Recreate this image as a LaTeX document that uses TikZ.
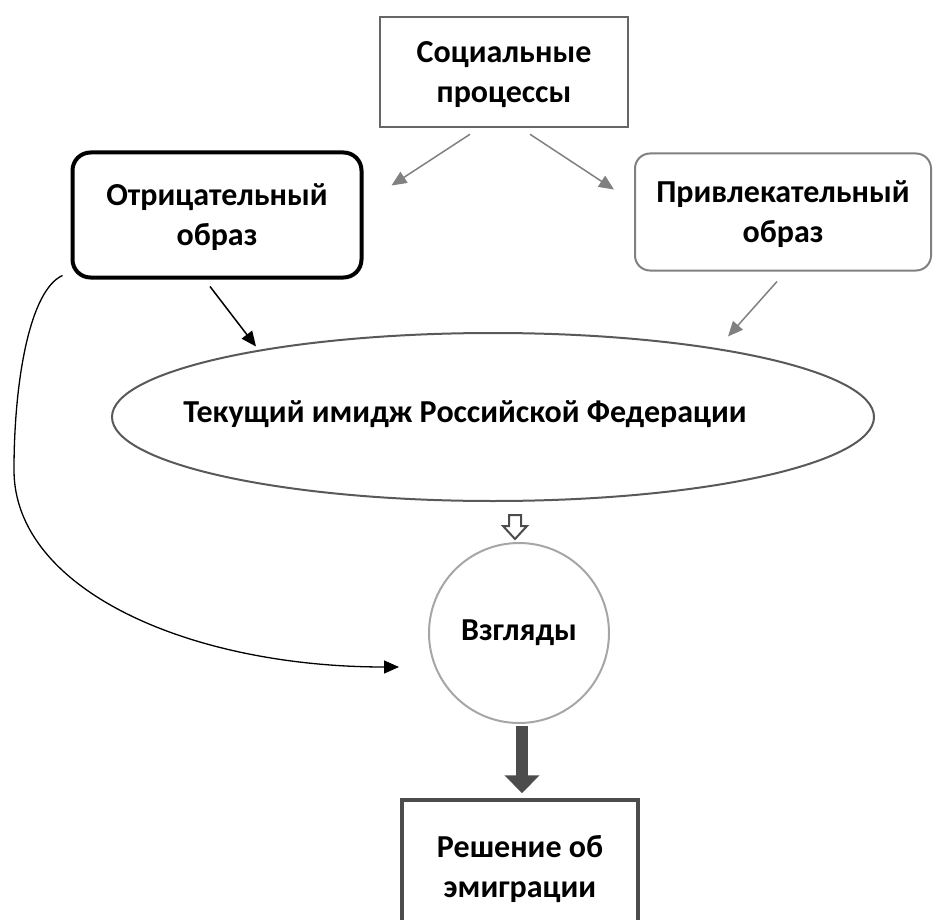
\documentclass[tikz,border=0pt]{standalone}
\usepackage{fontspec}
\setmainfont{Carlito}
\usetikzlibrary{positioning,arrows.meta,shapes,calc}

\begin{document}
\begin{tikzpicture}[
  x=1pt, y=-1pt,
  every node/.style={font=\fontsize{32}{40}\selectfont\bfseries},
  box/.style={rectangle, draw, align=center, inner sep=0pt, text depth=-4pt},
  arrow/.style={-{Triangle[length=15pt,width=13pt]}, line width=1.5pt},
  bigarrow/.style={-{Triangle[length=18pt,width=34pt]}, line width=12pt, draw=black!70},
  hollow/.style={draw=black!70, line width=2pt, line join=miter}
]
  \useasboundingbox (0,0) rectangle (934,920);

  \node[box, draw=black!60, line width=2.5pt, minimum width=248, minimum height=110]
    (soc) at (504,72) {Социальные\\процессы};
  \node[box, line width=4pt, rounded corners=18pt, minimum width=289, minimum height=125]
    (neg) at (217,215) {Отрицательный\\образ};
  \node[box, draw=black!50, line width=2pt, rounded corners=15pt, minimum width=296, minimum height=117]
    (pos) at (783,212) {Привлекательный\\образ};
  \node[ellipse, draw=black!65, line width=2pt, minimum width=762, minimum height=168, inner sep=0pt,
    label={[xshift=-28pt, yshift=3pt]center:Текущий имидж Российской Федерации}]
    (img) at (493,417) {};
  \node[circle, draw=black!35, line width=2pt, minimum size=180, inner sep=0pt]
    (view) at (519,633) {Взгляды};
  \node[box, draw=black!70, line width=3.5pt, minimum width=236, minimum height=132]
    (dec) at (520,866) {Решение об\\эмиграции};

  \draw[arrow, black!50] ($(soc.south)+(-34,6)$) -- ($(neg.north east)+(28,35)$);
  \draw[arrow, black!50] ($(soc.south)+(26,6)$) -- ($(pos.north west)+(-20,37)$);
  \draw[arrow] ($(neg.south)+(-7,7)$) -- ($(neg.south)+(39,67)$);
  \draw[arrow, black!50] ($(pos.south)+(-6,10)$) -- ($(pos.south)+(-55,65)$);

  % path around the image
  \coordinate (viewin) at ($(view.west)+(-29,34)$);
  \draw[arrow, line width=1.3pt] ($(neg.south west)+(-8,-4)$)
    .. controls (30,290) and (14,380) .. (14,470)
    .. controls (14,590) and (190,667) .. (viewin);

  \draw[hollow] ($(view.north)+(-10,-27)$) -- ++(12,0) -- ++(0,11) -- ++(6,0)
    -- ++(-12,13) -- ++(-12,-13) -- ++(6,0) -- cycle;
  \draw[bigarrow] ($(view.south)+(3,2)$) -- ($(dec.north)+(2,-5)$);
\end{tikzpicture}
\end{document}
